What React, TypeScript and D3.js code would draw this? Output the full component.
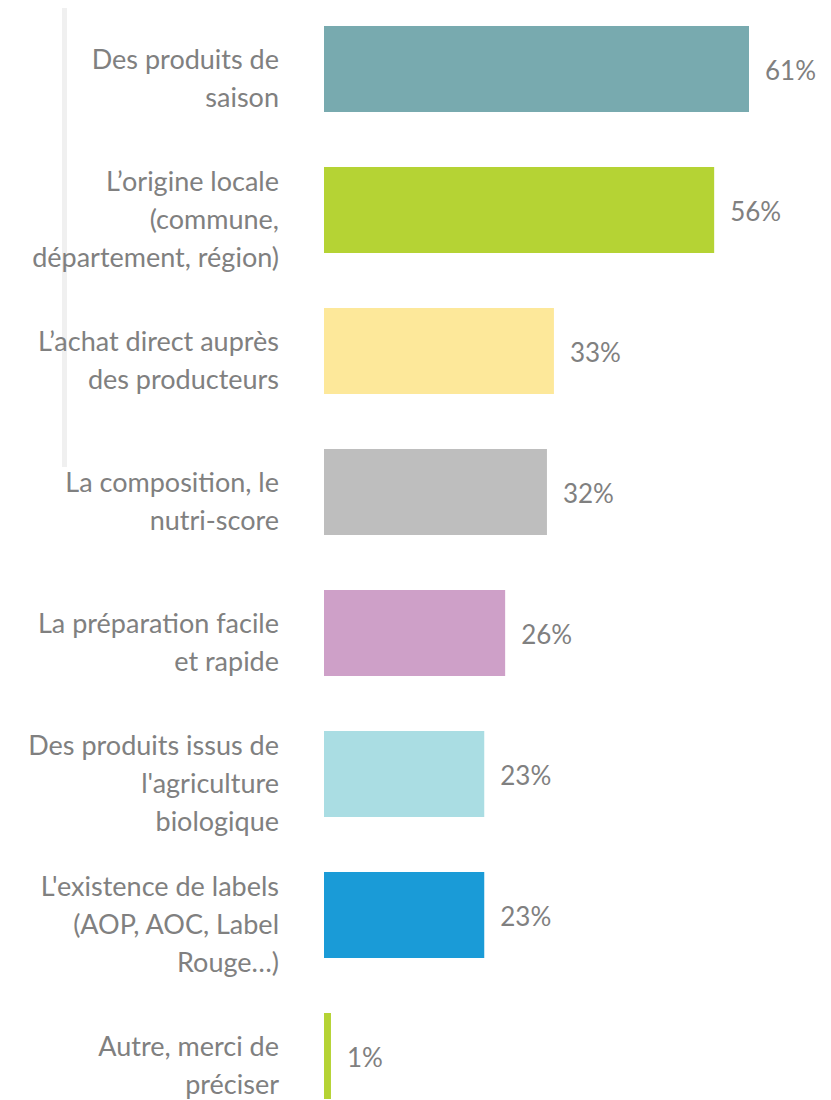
import * as d3 from 'd3'

const categories = [
  ['Des produits de', 'saison'],
  ['L’origine locale', '(commune,', 'département, région)'],
  ['L’achat direct auprès', 'des producteurs'],
  ['La composition, le', 'nutri-score'],
  ['La préparation facile', 'et rapide'],
  ['Des produits issus de', "l'agriculture", 'biologique'],
  ["L'existence de labels", '(AOP, AOC, Label', 'Rouge…)'],
  ['Autre, merci de', 'préciser'],
]
const values = [61, 56, 33, 32, 26, 23, 23, 1]
const colors = [
  '#78aaaf',
  '#b5d334',
  '#fde89a',
  '#bebebe',
  '#cea0c8',
  '#aadde3',
  '#1a9bd7',
  '#b5d334',
]

const width = 831
const height = 1100
const font = 'Lato, "Open Sans", sans-serif'
const textColor = '#808080'
const lineHeight = 38

export default function App() {
  const ids = categories.map((_, i) => i)

  const y = d3
    .scaleBand<number>()
    .domain(ids)
    .range([-1.5, 1126.5])
    .paddingInner(0.39)
    .paddingOuter(0.195)

  const x = d3.scaleLinear().domain([0, 61]).range([324, 749])

  return (
    <svg
      width={width}
      height={height}
      style={{ position: 'absolute', left: 0, top: 0, background: '#fff' }}
    >
      <rect x={62} y={8} width={5} height={459} fill="#f0f0f0" />
      {ids.map(i => {
        const top = y(i) ?? 0
        const center = top + y.bandwidth() / 2
        const lines = categories[i]
        const firstBaseline = center - ((lines.length - 1) / 2) * lineHeight + 19
        return (
          <g key={i}>
            <rect
              x={x(0)}
              y={top}
              width={x(values[i]) - x(0)}
              height={y.bandwidth()}
              fill={colors[i]}
            />
            <text
              x={x(values[i]) + 16}
              y={center + 11}
              fontFamily={font}
              fontSize={26}
              fill={textColor}
            >
              {values[i]}%
            </text>
            <text
              textAnchor="end"
              fontFamily={font}
              fontSize={27}
              fill={textColor}
            >
              {lines.map((line, j) => (
                <tspan key={j} x={279} y={firstBaseline + j * lineHeight}>
                  {line}
                </tspan>
              ))}
            </text>
          </g>
        )
      })}
    </svg>
  )
}
